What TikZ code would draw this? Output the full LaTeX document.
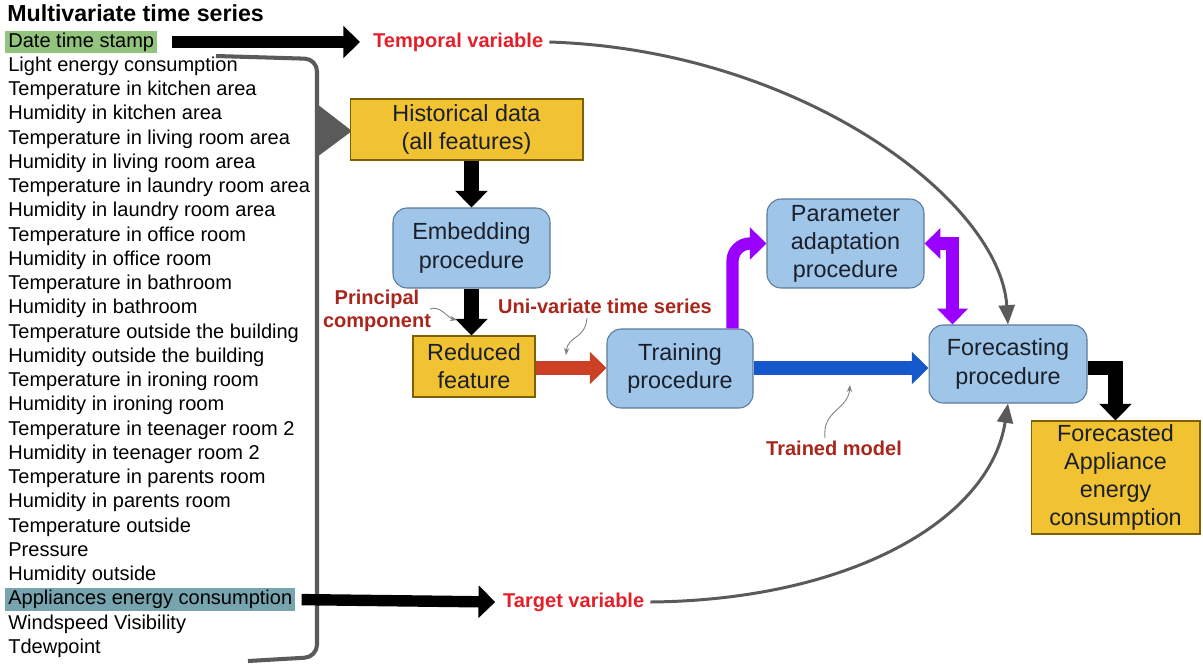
\documentclass[tikz,border=0pt]{standalone}
\usepackage{fontspec}
\setmainfont{Liberation Sans}
\usetikzlibrary{arrows.meta,calc}

\definecolor{boxyellow}{HTML}{F1C232}
\definecolor{yellowedge}{HTML}{7F6000}
\definecolor{boxblue}{HTML}{9FC5E8}
\definecolor{blueedge}{HTML}{5B7A99}
\definecolor{textdark}{HTML}{1B1F2A}
\definecolor{stampgreen}{HTML}{93C47D}
\definecolor{targetteal}{HTML}{76A5AF}
\definecolor{brightred}{HTML}{E3202A}
\definecolor{darkred}{HTML}{A8261C}
\definecolor{curvegray}{HTML}{5A5A5A}
\definecolor{flowred}{HTML}{CC4125}
\definecolor{flowblue}{HTML}{1558CC}
\definecolor{flowpurple}{HTML}{9900FF}

\tikzset{
  boxfont/.style={font=\fontsize{13.3}{16}\selectfont, text=textdark, align=center, inner sep=0pt},
  databox/.style={boxfont, draw=yellowedge, fill=boxyellow, line width=0.6pt},
  procbox/.style={boxfont, draw=blueedge, fill=boxblue, line width=0.6pt, rounded corners=8pt},
  item/.style={anchor=west, font=\fontsize{11.4}{13}\selectfont, text height=8.4pt, text depth=2.4pt, inner xsep=1.7pt, inner ysep=1pt},
  varlabel/.style={font=\bfseries\fontsize{11.4}{13}\selectfont, text=brightred, anchor=west},
  note/.style={font=\bfseries\fontsize{11.4}{13}\selectfont, text=darkred, align=center},
  fat/.style={line width=8pt, -{Triangle[length=9.5pt,width=18pt]}},
  curve/.style={curvegray, line width=1.7pt, -{Triangle[length=11pt,width=9pt]}},
  pointer/.style={gray, line width=0.5pt, -{Stealth[length=4pt,width=3pt]}},
}

\begin{document}
\begin{tikzpicture}[x=0.02cm, y=-0.02cm]
\useasboundingbox (0,0) rectangle (1203,670);

% list of features
\node[anchor=west, font=\bfseries\fontsize{13.2}{15}\selectfont, inner sep=0pt] (title) at (7,13) {Multivariate time series};
\node[item, fill=stampgreen] (v0) at (5,42) {Date time stamp};
\foreach \txt [count=\i] in {Light energy consumption, Temperature in kitchen area,
  Humidity in kitchen area, Temperature in living room area, Humidity in living room area,
  Temperature in laundry room area, Humidity in laundry room area, Temperature in office room,
  Humidity in office room, Temperature in bathroom, Humidity in bathroom,
  Temperature outside the building, Humidity outside the building, Temperature in ironing room,
  Humidity in ironing room, Temperature in teenager room 2, Humidity in teenager room 2,
  Temperature in parents room, Humidity in parents room, Temperature outside, Pressure,
  Humidity outside}
  \node[item] (v\i) at (5,{42+24.24*\i}) {\txt};
\node[item, fill=targetteal] (v23) at (5,{42+24.24*23}) {Appliances energy consumption};
\foreach \txt [count=\i from 24] in {Windspeed Visibility, Tdewpoint}
  \node[item] (v\i) at (5,{42+24.24*\i}) {\txt};

% bracket
\draw[curvegray, line width=2.3pt, rounded corners=7pt] (216,56) -- (317,59) -- (317,657) -- (248,661);
\fill[curvegray] (317,104) -- (352,131) -- (317,157) -- cycle;

% boxes
\node[databox, minimum width=4.66cm, minimum height=1.22cm] (hist) at (466.5,129.5) {Historical data\\(all features)};
\node[procbox, minimum width=3.14cm, minimum height=1.6cm] (emb) at (471.5,248) {Embedding\\procedure};
\node[databox, minimum width=2.44cm, minimum height=1.22cm] (red) at (474,366.5) {Reduced\\feature};
\node[procbox, minimum width=2.92cm, minimum height=1.58cm] (train) at (680,368.5) {Training\\procedure};
\node[procbox, minimum width=3.14cm, minimum height=1.78cm] (param) at (845.5,243.5) {Parameter\\adaptation\\procedure};
\node[procbox, minimum width=3.16cm, minimum height=1.56cm] (fore) at (1008,364) {Forecasting\\procedure};
\node[databox, minimum width=3.38cm, minimum height=2.26cm] (out) at (1115.5,477.5) {Forecasted\\Appliance\\energy\\consumption};

% labels
\node[varlabel] (temporal) at (367,42) {Temporal variable};
\node[varlabel] (target) at (497,602) {Target variable};
\node[note] (principal) at (377,311) {Principal\\component};
\node[note] (univar) at (605,306) {Uni-variate time series};
\node[note] (trained) at (834,448) {Trained model};

% main arrows
\draw[fat, line width=6.5pt, shorten <=8.5pt, shorten >=4pt] (v0.east) -- (temporal.west);
\draw[fat, line width=6.5pt, shorten <=3.4pt, shorten >=1pt] (v23.east) -- (target.west);
\draw[fat] (hist.south -| emb.north) -- (emb.north);
\draw[fat] (emb.south) -- (emb.south |- red.north);
\draw[fat, flowred] (red.east |- 0,368) -- (train.west |- 0,368);
\draw[fat, flowblue] (train.east |- 0,368) -- (fore.west |- 0,368);
\draw[fat, line width=7pt, flowpurple, rounded corners=10pt] ($(train.north east)+(-21,0)$) |- (param.west);
\draw[line width=7pt, flowpurple, {Triangle[length=9pt,width=17pt]}-{Triangle[length=9pt,width=17pt]}] (param.east) -| ($(fore.north west)+(24,0)$);
\draw[fat] (fore.east |- 0,368) -| (out.north);

% curved inputs
\draw[curve] (temporal.east) .. controls (800,50) and (1000,200) .. (fore.north);
\draw[curve] (target.east) .. controls (850,600) and (990,520) .. (fore.south);

% label pointers
\coordinate (pcTip) at (457,320);
\coordinate (uvTip) at (566,355);
\coordinate (tmTip) at (850,385);
\draw[pointer] (430,309) .. controls (440,305) and (448,318) .. (pcTip);
\draw[pointer] (587,318) .. controls (585,340) and (568,335) .. (uvTip);
\draw[pointer] (825,438) .. controls (822,410) and (848,410) .. (tmTip);

\end{tikzpicture}
\end{document}
